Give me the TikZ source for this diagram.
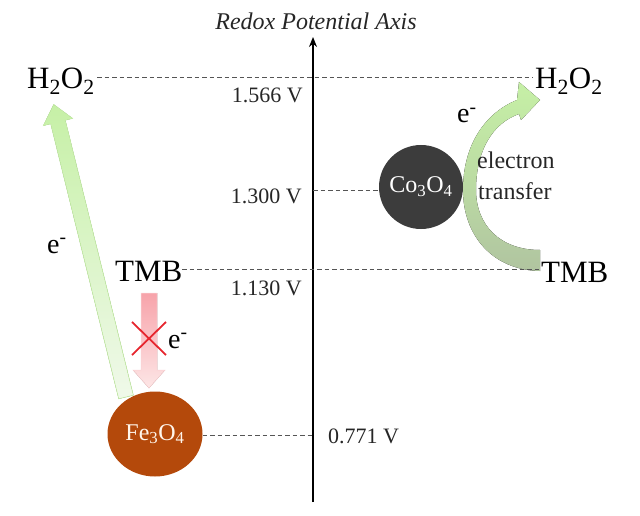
\documentclass[tikz,border=0pt]{standalone}
\usepackage{fontspec}
\setmainfont{Liberation Serif}
\newfontfamily\tms{Liberation Serif}
\usetikzlibrary{arrows.meta,shapes.geometric}
\definecolor{feC}{HTML}{B4490B}
\definecolor{coC}{HTML}{3C3C3C}
\definecolor{lgreen}{HTML}{C6F0A6}
\definecolor{pgreen}{HTML}{F0F9EA}
\definecolor{ggreen}{HTML}{B0C4A0}
\definecolor{pinkT}{HTML}{F7A3AA}
\definecolor{pinkB}{HTML}{FDE6E6}
\definecolor{xred}{HTML}{E6262E}
\definecolor{dashc}{HTML}{555555}
\begin{document}
\begin{tikzpicture}[x=1pt,y=-1pt,
  lvl/.style={draw=dashc, line width=0.9pt, dash pattern=on 4.5pt off 3pt},
  big/.style={font=\tms\fontsize{31}{36}\selectfont, inner sep=0pt},
  volt/.style={font=\tms\fontsize{22}{26}\selectfont, inner sep=0pt, text=black!85},
  elec/.style={font=\tms\fontsize{28}{32}\selectfont, inner sep=0pt},
  small/.style={font=\tms\fontsize{24}{28}\selectfont, inner sep=0pt, text=black!85},
  ball/.style={inner sep=0pt, text=white, font=\tms\fontsize{24}{28}\selectfont}]
\useasboundingbox (0,0) rectangle (640,516);

% axis
\coordinate (ab) at (313,502);
\coordinate (at) at (313,37);
\draw[line width=1.8pt,-{Stealth[length=10pt,width=8pt]}] (ab) -- (at);
\node[font=\tms\fontsize{24}{28}\selectfont\itshape, inner sep=0pt, anchor=base, text=black!85] (title) at (316,30) {Redox Potential Axis};

% left green arrow (Fe3O4 -> H2O2)
\fill[top color=lgreen, bottom color=pgreen, draw=lgreen, line width=0.6pt]
  (65.3,120.2) -- (72.6,118.4) -- (53.7,104.5) -- (43.4,125.6) -- (50.7,123.8)
  -- (118.7,398.8) -- (133.3,395.2) -- cycle;

% red blocked arrow
\fill[top color=pinkT, bottom color=pinkB, draw=pinkB!70!pinkT, line width=0.5pt]
  (141,293) -- (157,293) -- (157,370) -- (165,370) -- (149,388) -- (133,370) -- (141,370) -- cycle;
\coordinate (xa) at (132,322); \coordinate (xb) at (166,355);
\coordinate (xc) at (132,355); \coordinate (xd) at (166,322);
\draw[xred, line width=1.8pt] (xa) -- (xb) (xc) -- (xd);

% right curved arrow (TMB -> H2O2)
\fill[top color=lgreen, bottom color=ggreen, middle color=lgreen!55!ggreen]
  (540,271) .. controls (492,270) and (463,235) .. (463,190)
  .. controls (463,145) and (485,113) .. (517,100)
  -- (519,82) -- (540,100) -- (521,120) -- (519,114)
  .. controls (493,123) and (476,150) .. (476,190)
  .. controls (476,225) and (500,250) .. (540,250) -- cycle;

% particles
\node[circle, fill=coC, minimum size=84pt, ball] (co) at (421,187) {Co\textsubscript{3}O\textsubscript{4}};
\node[ellipse, fill=feC, minimum width=95pt, minimum height=85pt, ball, text=white!92!orange] (fe) at (155,434) {Fe\textsubscript{3}O\textsubscript{4}};

% labels
\node[big, anchor=base west] (h2l) at (27,89) {H\textsubscript{2}O\textsubscript{2}};
\node[big, anchor=base west] (h2r) at (535,89) {H\textsubscript{2}O\textsubscript{2}};
\node[big, anchor=base west] (tmbl) at (115,281) {TMB};
\node[big, anchor=base west] (tmbr) at (541,282) {TMB};
\node[volt, anchor=base east] (v1) at (303,103) {1.566 V};
\node[volt, anchor=base east] (v2) at (302,203) {1.300 V};
\node[volt, anchor=base east] (v3) at (302,295) {1.130 V};
\node[volt, anchor=base west] (v4) at (328,443) {0.771 V};
\node[elec, anchor=base west] (e1) at (47,253) {e\textsuperscript{-}};
\node[elec, anchor=base west] (e2) at (168,348) {e\textsuperscript{-}};
\node[elec, anchor=base west] (e3) at (457,123) {e\textsuperscript{-}};
\node[small, anchor=base west] (el1) at (477,168) {electron};
\node[small, anchor=base west] (el2) at (478,199) {transfer};

% level lines
\coordinate (hL) at (97,77);  \coordinate (hR) at (533,77);
\coordinate (tL) at (182,269); \coordinate (tR) at (540,269);
\coordinate (axC) at (313,190);
\coordinate (axF) at (313,435);
\draw[lvl] (hL) -- (hR);
\draw[lvl] (tL) -- (tR);
\draw[lvl] (axC) -- (axC -| co.west);
\draw[lvl] (fe.east |- axF) -- (axF);
\end{tikzpicture}
\end{document}
